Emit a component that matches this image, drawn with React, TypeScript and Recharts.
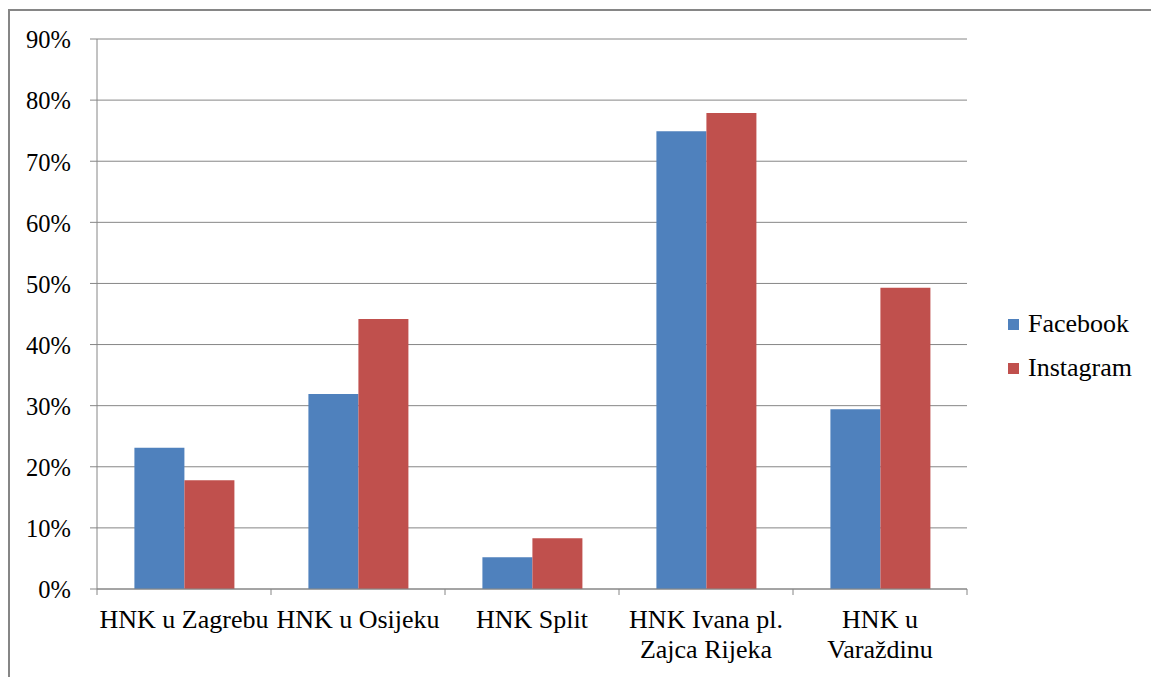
import { BarChart, Bar, XAxis, YAxis, CartesianGrid, Legend } from "recharts";

const categories = [
  "HNK u Zagrebu",
  "HNK u Osijeku",
  "HNK Split",
  "HNK Ivana pl.\nZajca Rijeka",
  "HNK u\nVaraždinu",
];
const facebook = [0.231, 0.319, 0.052, 0.749, 0.294];
const instagram = [0.178, 0.442, 0.083, 0.779, 0.493];
const yTicks = [0, 0.1, 0.2, 0.3, 0.4, 0.5, 0.6, 0.7, 0.8, 0.9];

const series = [
  { key: "Facebook", color: "#4F81BD" },
  { key: "Instagram", color: "#C0504D" },
];

const data = categories.map((name, i) => ({
  name,
  Facebook: facebook[i],
  Instagram: instagram[i],
}));

const FONT = "'Liberation Serif', 'Times New Roman', serif";
const GRAY = "#868686";

// category label + excel-style tick marks on the category boundaries
function CategoryTick(props: any) {
  const { x, y, payload, index, visibleTicksCount, width } = props;
  const half = payload.offset || width / visibleTicksCount / 2;
  const lines = String(payload.value).split("\n");
  return (
    <g>
      <line x1={x - half} x2={x - half} y1={y} y2={y + 6} stroke={GRAY} />
      {index === visibleTicksCount - 1 && (
        <line x1={x + half} x2={x + half} y1={y} y2={y + 6} stroke={GRAY} />
      )}
      <text x={x} y={y + 39} textAnchor="middle" fill="#000" fontSize={26} fontFamily={FONT}>
        {lines.map((l, i) => (
          <tspan key={i} x={x} dy={i === 0 ? 0 : 30}>
            {l}
          </tspan>
        ))}
      </text>
    </g>
  );
}

function ValueTick(props: any) {
  const { x, y, payload } = props;
  return (
    <text x={x} y={y} textAnchor="end" dy="0.38em" fill="#000" fontSize={24.5} fontFamily={FONT}>
      {`${Math.round(payload.value * 100)}%`}
    </text>
  );
}

function LegendBox() {
  return (
    <div style={{ paddingLeft: 41, fontFamily: FONT, fontSize: 26, color: "#000" }}>
      {series.map((s) => (
        <div key={s.key} style={{ display: "flex", alignItems: "center", height: 44 }}>
          <span style={{ width: 11, height: 11, background: s.color, marginRight: 9, display: "inline-block" }} />
          <span>{s.key}</span>
        </div>
      ))}
    </div>
  );
}

export default function App() {
  return (
    <div
      style={{
        position: "fixed",
        left: 0,
        top: 0,
        width: 1151,
        height: 677,
        overflow: "hidden",
        background: "#fff",
      }}
    >
      <div
        style={{
          position: "absolute",
          left: 8,
          top: 9,
          width: 1200,
          height: 720,
          borderLeft: `2px solid ${GRAY}`,
          borderTop: `2px solid ${GRAY}`,
        }}
      />
      <div style={{ position: "absolute", left: 0, top: 0 }}>
        <BarChart
          width={1151}
          height={677}
          data={data}
          margin={{ top: 39, right: 14, bottom: 0, left: 17 }}
          barCategoryGap="21.5%"
          barGap={0}
        >
          <CartesianGrid vertical={false} stroke={GRAY} strokeWidth={1} />
          <XAxis
            dataKey="name"
            interval={0}
            height={88}
            tick={<CategoryTick />}
            tickSize={0}
            tickMargin={0}
            stroke={GRAY}
            tickLine={false}
          />
          <YAxis
            width={80}
            domain={[0, 0.9]}
            ticks={yTicks}
            interval={0}
            tick={<ValueTick />}
            tickSize={7}
            tickMargin={19}
            stroke={GRAY}
            tickLine={{ stroke: GRAY }}
          />
          <Legend
            layout="vertical"
            align="right"
            verticalAlign="middle"
            wrapperStyle={{ width: 170, top: 302 }}
            content={<LegendBox />}
          />
          {series.map((s) => (
            <Bar key={s.key} dataKey={s.key} fill={s.color} isAnimationActive={false} />
          ))}
        </BarChart>
      </div>
    </div>
  );
}
